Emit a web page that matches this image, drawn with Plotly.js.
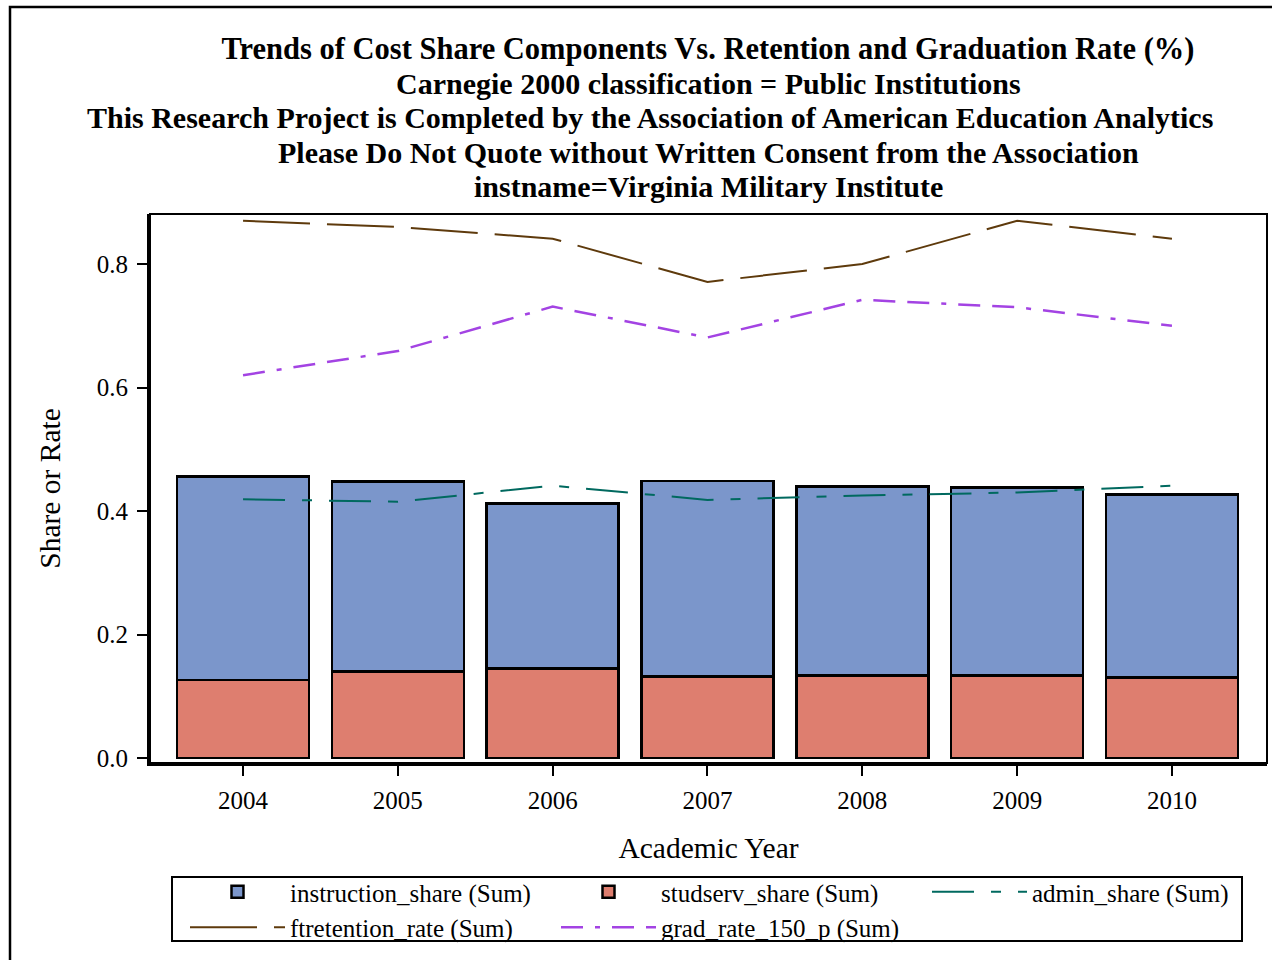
<!DOCTYPE html>
<html>
<head>
<meta charset="utf-8">
<script src="https://cdn.plot.ly/plotly-3.0.1.min.js"></script>
<style>
  html, body { margin: 0; padding: 0; background: #ffffff; overflow: hidden; }
  #chart { width: 1272px; height: 960px; }
</style>
</head>
<body>
<div id="chart"></div>
<script>
// ---- data ----
const years = [2004, 2005, 2006, 2007, 2008, 2009, 2010];
const yearLabels = ['2004', '2005', '2006', '2007', '2008', '2009', '2010'];
const studservShare = [0.126, 0.140, 0.145, 0.132, 0.134, 0.134, 0.130];
const instructionShare = [0.330, 0.308, 0.267, 0.317, 0.306, 0.304, 0.297];
const adminShare = [0.419, 0.415, 0.441, 0.418, 0.425, 0.430, 0.441];
const ftretentionRate = [0.870, 0.860, 0.841, 0.771, 0.800, 0.870, 0.841];
const gradRate150 = [0.620, 0.659, 0.731, 0.681, 0.742, 0.730, 0.700];
const yTicks = [0, 0.2, 0.4, 0.6, 0.8];

const titleLines = [
  'Trends of Cost Share Components Vs. Retention and Graduation Rate (%)',
  'Carnegie 2000 classification = Public Institutions',
  'This Research Project is Completed by the Association of American Education Analytics',
  'Please Do Not Quote without Written Consent from the Association',
  'instname=Virginia Military Institute'
];

// ---- styling ----
const SERIF = 'Liberation Serif, Times New Roman, serif';
const W = 1272, H = 960;
const M = { l: 150, r: 5, t: 214, b: 197 };
const plotW = W - M.l - M.r, plotH = H - M.t - M.b;
const px = x => (x - M.l) / plotW;           // pixel -> paper x
const py = y => (H - M.b - y) / plotH;        // pixel -> paper y

const barLine = { color: '#000000', width: 2.5 };

const traces = [
  {
    type: 'bar', name: 'studserv_share (Sum)', x: years, y: studservShare,
    width: 0.853, marker: { color: '#DE7E6F', line: barLine }, legendrank: 2
  },
  {
    type: 'bar', name: 'instruction_share (Sum)', x: years, y: instructionShare,
    width: 0.853, marker: { color: '#7B96CB', line: barLine }, legendrank: 1
  },
  {
    type: 'scatter', mode: 'lines', name: 'admin_share (Sum)', x: years, y: adminShare,
    line: { color: '#00695F', width: 2, dash: '42px,17px,10px,17px' }, legendrank: 3
  },
  {
    type: 'scatter', mode: 'lines', name: 'ftretention_rate (Sum)', x: years, y: ftretentionRate,
    line: { color: '#5E3A0C', width: 2, dash: '67px,17px' }, legendrank: 4
  },
  {
    type: 'scatter', mode: 'lines', name: 'grad_rate_150_p (Sum)', x: years, y: gradRate150,
    line: { color: '#A343E3', width: 2.5, dash: '22px,12px,5px,12px,22px,12px' }, legendrank: 5
  }
];

const titleCenters = [708, 708, 650, 708, 708];
const titleYs = [48, 83, 117, 152, 186];
const TITLE_SIZE = 30;

const annotations = titleLines.slice(1).map((t, i) => ({
  text: '<b>' + t + '</b>',
  xref: 'paper', yref: 'paper',
  x: px(titleCenters[i + 1]), y: py(titleYs[i + 1]),
  xanchor: 'center', yanchor: 'middle', showarrow: false,
  font: { family: SERIF, size: TITLE_SIZE, color: '#000000' }
}));

const layout = {
  width: W, height: H,
  margin: M,
  paper_bgcolor: '#ffffff', plot_bgcolor: '#ffffff',
  barmode: 'stack',
  showlegend: true,
  title: {
    text: '<b>' + titleLines[0] + '</b>',
    x: px(titleCenters[0]), xanchor: 'center', xref: 'paper',
    y: 1 - titleYs[0] / H, yanchor: 'middle', yref: 'container',
    font: { family: SERIF, size: 30.5, color: '#000000' }
  },
  annotations: annotations,
  xaxis: {
    type: 'linear',
    range: [2004 - 0.601, 2010 + 0.614],
    tickvals: years, ticktext: yearLabels,
    ticks: 'outside', ticklen: 10, tickwidth: 2, tickcolor: '#000000',
    ticklabelstandoff: 3,
    showline: true, linewidth: 3, linecolor: '#000000',
    showgrid: false, zeroline: false,
    tickfont: { family: SERIF, size: 25, color: '#000000' },
    title: { text: 'Academic Year', font: { family: SERIF, size: 29.5, color: '#000000' }, standoff: 25 }
  },
  yaxis: {
    range: [-0.0081, 0.881],
    tickvals: yTicks, tickformat: '.1f',
    ticks: 'outside', ticklen: 10, tickwidth: 2, tickcolor: '#000000',
    ticklabelstandoff: 4,
    showline: true, linewidth: 3, linecolor: '#000000',
    showgrid: false, zeroline: false,
    tickfont: { family: SERIF, size: 25, color: '#000000' },
    title: { text: 'Share or Rate', font: { family: SERIF, size: 29.5, color: '#000000' }, standoff: 28 }
  },
  legend: {
    orientation: 'h',
    x: 185 / W, xanchor: 'left', xref: 'container',
    y: 1 - 869 / H, yanchor: 'top', yref: 'container',
    itemwidth: 95,
    entrywidth: 261, entrywidthmode: 'pixels',
    font: { family: SERIF, size: 25, color: '#000000' },
    bgcolor: 'rgba(0,0,0,0)', borderwidth: 0,
    traceorder: 'normal'
  },
  shapes: [
    // plot frame
    { type: 'rect', xref: 'paper', yref: 'paper', x0: 0, x1: 1, y0: 0, y1: 1,
      line: { color: '#000000', width: 2 }, fillcolor: 'rgba(0,0,0,0)' },
    // legend box
    { type: 'rect', xref: 'paper', yref: 'paper', x0: px(172), x1: px(1242), y0: py(941), y1: py(877),
      line: { color: '#000000', width: 2 }, fillcolor: 'rgba(0,0,0,0)' },
    // outer frame
    { type: 'rect', xref: 'paper', yref: 'paper', x0: px(10), x1: px(1290), y0: py(990), y1: py(7),
      line: { color: '#000000', width: 2.5 }, fillcolor: 'rgba(0,0,0,0)' }
  ]
};

Plotly.newPlot('chart', traces, layout, { displayModeBar: false, staticPlot: true });
</script>
</body>
</html>
